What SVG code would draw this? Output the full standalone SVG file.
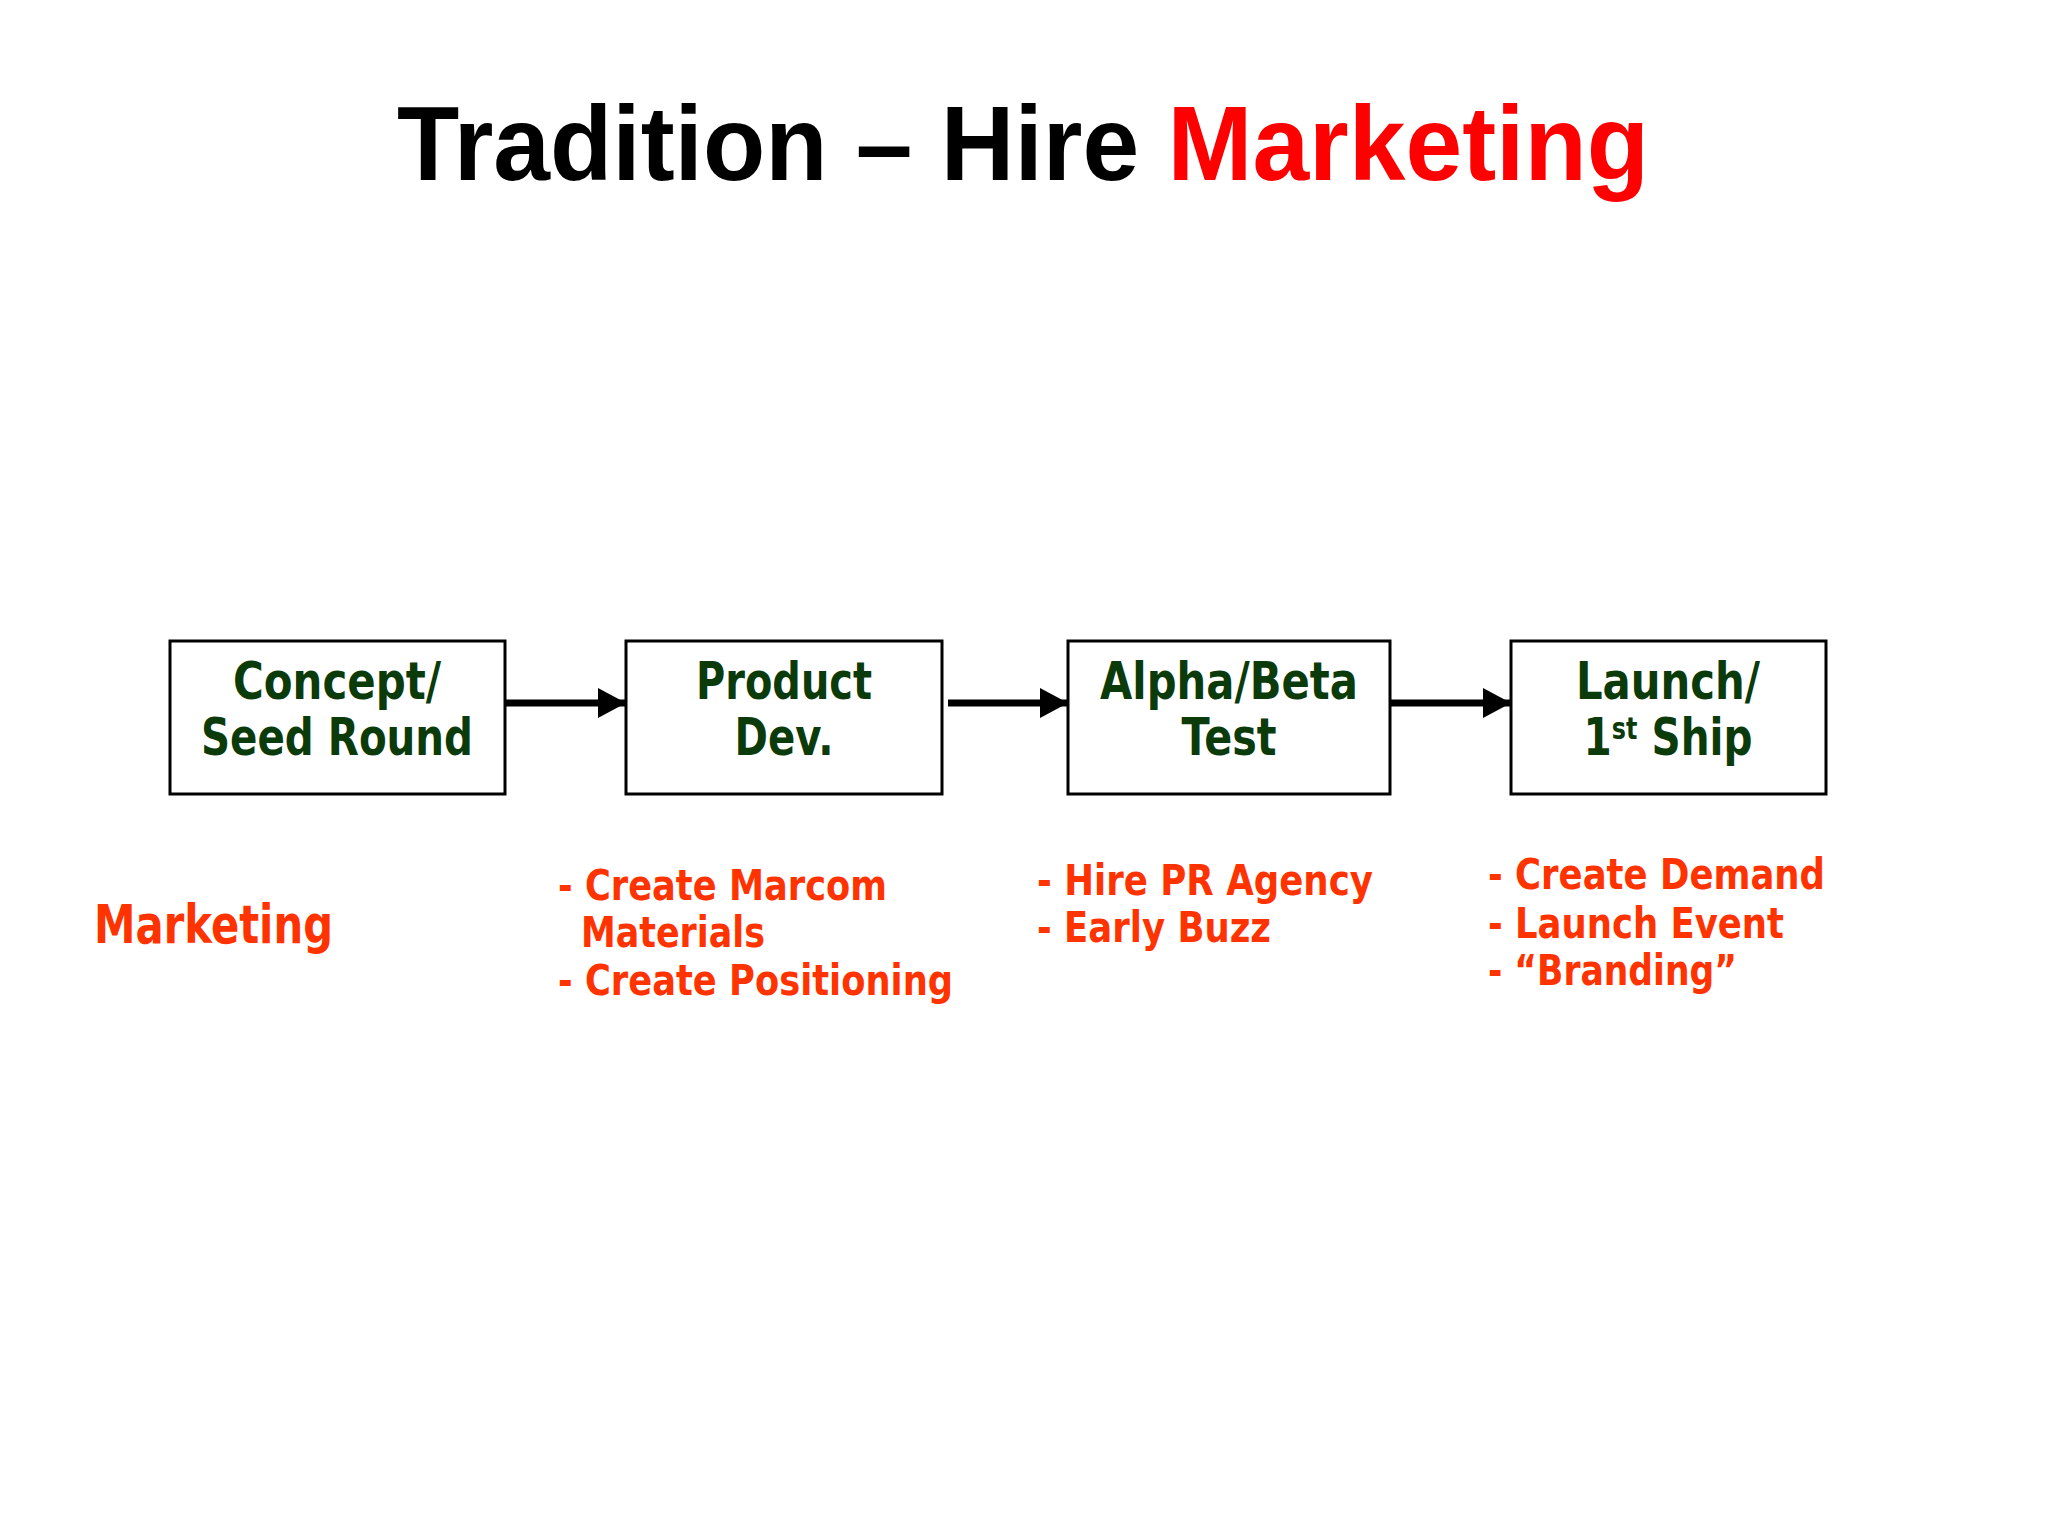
<svg xmlns="http://www.w3.org/2000/svg" width="2048" height="1536" viewBox="0 0 2048 1536">
  <style>
    .title { font-family: "Liberation Sans", Arial, sans-serif; font-weight: bold; font-size: 106px; }
    .box { fill: #ffffff; stroke: #000000; stroke-width: 3; }
    .lbl { font-family: "DejaVu Sans", Verdana, sans-serif; font-weight: bold; font-size: 51px; fill: #0b3a0b; text-anchor: middle; }
    .act { font-family: "DejaVu Sans", Verdana, sans-serif; font-weight: bold; font-size: 43px; fill: #ff3300; }
    .big { font-family: "DejaVu Sans", Verdana, sans-serif; font-weight: bold; font-size: 53px; fill: #ff3300; }
    .conn { stroke: #000000; stroke-width: 7; fill: none; }
  </style>
  <defs>
    <marker id="arrow" markerUnits="userSpaceOnUse" markerWidth="30" markerHeight="30" refX="28" refY="15" orient="auto">
      <path d="M0,0 L28,15 L0,30 Z" fill="#000000"/>
    </marker>
  </defs>
  <rect width="2048" height="1536" fill="#ffffff"/>

  <text class="title" x="397" y="180" textLength="1252" lengthAdjust="spacingAndGlyphs">Tradition – Hire <tspan fill="#ff0000">Marketing</tspan></text>

  <g id="node-concept">
    <rect class="box" x="170" y="641" width="335" height="153"/>
    <text class="lbl" x="337" y="699" textLength="208" lengthAdjust="spacingAndGlyphs">Concept/</text>
    <text class="lbl" x="337" y="755" textLength="272" lengthAdjust="spacingAndGlyphs">Seed Round</text>
  </g>
  <g id="node-product">
    <rect class="box" x="626" y="641" width="316" height="153"/>
    <text class="lbl" x="784" y="699" textLength="176" lengthAdjust="spacingAndGlyphs">Product</text>
    <text class="lbl" x="784" y="755" textLength="99" lengthAdjust="spacingAndGlyphs">Dev.</text>
  </g>
  <g id="node-alphabeta">
    <rect class="box" x="1068" y="641" width="322" height="153"/>
    <text class="lbl" x="1229" y="699" textLength="258" lengthAdjust="spacingAndGlyphs">Alpha/Beta</text>
    <text class="lbl" x="1229" y="755" textLength="95" lengthAdjust="spacingAndGlyphs">Test</text>
  </g>
  <g id="node-launch">
    <rect class="box" x="1511" y="641" width="315" height="153"/>
    <text class="lbl" x="1668" y="699" textLength="184" lengthAdjust="spacingAndGlyphs">Launch/</text>
    <text class="lbl" x="1668" y="755" textLength="169" lengthAdjust="spacingAndGlyphs">1<tspan font-size="30" baseline-shift="55%">st</tspan> Ship</text>
  </g>

  <g id="connectors">
    <line class="conn" x1="505" y1="703" x2="626" y2="703" marker-end="url(#arrow)"/>
    <line class="conn" x1="948" y1="703" x2="1068" y2="703" marker-end="url(#arrow)"/>
    <line class="conn" x1="1390" y1="703" x2="1511" y2="703" marker-end="url(#arrow)"/>
  </g>

  <g id="marketing-row">
    <text class="big" x="94" y="943" textLength="239" lengthAdjust="spacingAndGlyphs">Marketing</text>
    <text class="act" x="558" y="900" textLength="329" lengthAdjust="spacingAndGlyphs">- Create Marcom</text>
    <text class="act" x="581" y="947" textLength="184" lengthAdjust="spacingAndGlyphs">Materials</text>
    <text class="act" x="558" y="995" textLength="395" lengthAdjust="spacingAndGlyphs">- Create Positioning</text>
    <text class="act" x="1037" y="895" textLength="336" lengthAdjust="spacingAndGlyphs">- Hire PR Agency</text>
    <text class="act" x="1037" y="942" textLength="234" lengthAdjust="spacingAndGlyphs">- Early Buzz</text>
    <text class="act" x="1488" y="889" textLength="337" lengthAdjust="spacingAndGlyphs">- Create Demand</text>
    <text class="act" x="1488" y="938" textLength="296" lengthAdjust="spacingAndGlyphs">- Launch Event</text>
    <text class="act" x="1488" y="985" textLength="249" lengthAdjust="spacingAndGlyphs">- “Branding”</text>
  </g>
</svg>
